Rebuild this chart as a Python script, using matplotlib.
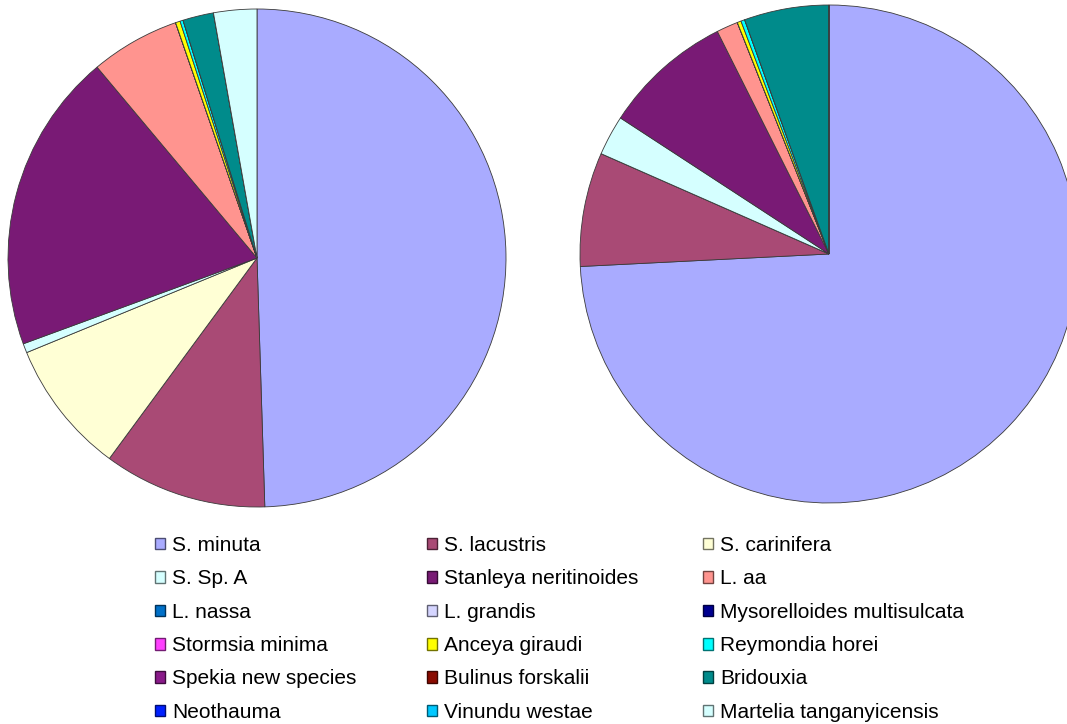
import matplotlib
matplotlib.use("Agg")
import matplotlib.pyplot as plt
from matplotlib.patches import Patch
from matplotlib.colors import to_rgb

plt.rcParams['font.family'] = ['Liberation Sans', 'DejaVu Sans']

species = ["S. minuta", "S. lacustris", "S. carinifera", "S. Sp. A",
           "Stanleya neritinoides", "L. aa", "L. nassa", "L. grandis",
           "Mysorelloides multisulcata", "Stormsia minima", "Anceya giraudi",
           "Reymondia horei", "Spekia new species", "Bulinus forskalii",
           "Bridouxia", "Neothauma", "Vinundu westae", "Martelia tanganyicensis"]

colors = ["#A9ABFF", "#A94A75", "#FFFFD5", "#D5FFFF", "#791A75", "#FF948F",
          "#0070C8", "#D5D5FF", "#000090", "#FF40FF", "#FFFF00", "#00FFFF",
          "#8A1A8A", "#8A0A00", "#008B8B", "#0020FF", "#00C8FF", "#D5FFFF"]

left_values = [49.5, 10.6, 8.7, 0.6, 19.5, 5.8, 0, 0, 0, 0, 0.3, 0.2,
               0, 0, 2.0, 0, 0, 2.8]
right_values = [74.2, 7.4, 0, 2.6, 8.4, 1.4, 0, 0, 0, 0, 0.25, 0.25,
                0, 0, 5.5, 0, 0, 0]

W, H = 1067, 724
fig = plt.figure(figsize=(W / 100, H / 100), dpi=100)


def pie_axes(cx, cy, r):
    return fig.add_axes([(cx - r) / W, (H - cy - r) / H, 2 * r / W, 2 * r / H])


for (cx, cy, r), vals in [((257, 258, 249), left_values),
                          ((829, 254, 249), right_values)]:
    ax = pie_axes(cx, cy, r)
    ax.pie(vals, colors=colors, startangle=90, counterclock=False,
           wedgeprops=dict(edgecolor="#3a3a3a", linewidth=0.6))
    ax.set_xlim(-1, 1)
    ax.set_ylim(-1, 1)
    ax.set_aspect('auto')
    ax.axis('off')

handles = []
for c in colors:
    rgb = to_rgb(c)
    dark = tuple(v * 0.45 for v in rgb)
    handles.append(Patch(facecolor=c, edgecolor=dark, linewidth=1.0))

col_x = [155, 427, 703]
for c in range(3):
    fig.legend(handles[c::3], species[c::3], loc='upper left',
               bbox_to_anchor=(col_x[c] / W, 1 - 536 / H),
               frameon=False, fontsize=15, handlelength=0.48,
               handleheight=0.48, handletextpad=0.35, labelspacing=0.69,
               borderpad=0, borderaxespad=0)

fig.savefig("out.png", dpi=100)
